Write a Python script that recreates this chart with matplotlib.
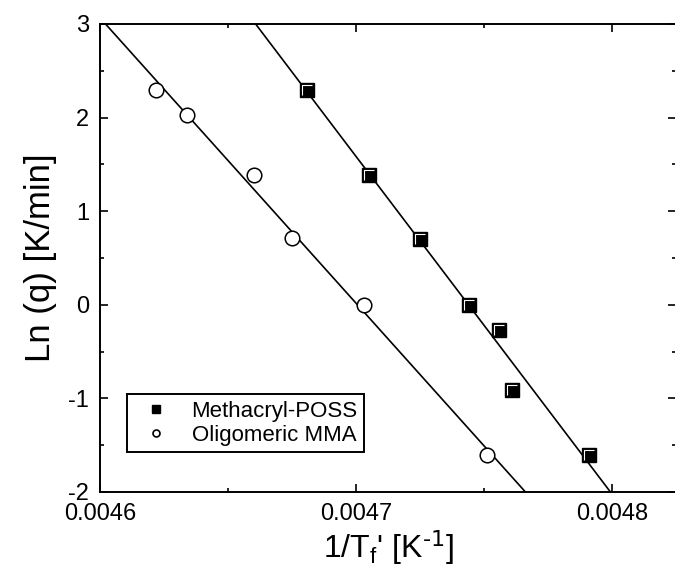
import matplotlib
matplotlib.use("Agg")
import matplotlib.pyplot as plt
from matplotlib.lines import Line2D
from matplotlib.path import Path
import numpy as np

plt.rcParams['font.family'] = ['Liberation Sans', 'DejaVu Sans']
plt.rcParams['mathtext.default'] = 'regular'
plt.rcParams['axes.unicode_minus'] = False

# Methacryl-POSS
poss_x = [0.004681, 0.004705, 0.004725, 0.004744, 0.004756, 0.004761, 0.004791]
poss_y = [2.30, 1.39, 0.70, 0.0, -0.27, -0.91, -1.60]
# Oligomeric MMA
mma_x = [0.004622, 0.004634, 0.004660, 0.004675, 0.004703, 0.004751]
mma_y = [2.30, 2.03, 1.39, 0.71, 0.0, -1.60]

labels = ["Methacryl-POSS", "Oligomeric MMA"]

fig = plt.figure(figsize=(6.75, 5.85), dpi=100)
ax = fig.add_axes([100/675, 93/585, 576/675, 468/585])

# linear fits
xx = np.array([0.0045, 0.0049])
for xs, ys in [(poss_x, poss_y), (mma_x, mma_y)]:
    k, b = np.polyfit(xs, ys, 1)
    ax.plot(xx, k*xx + b, color='black', lw=1.2, zorder=2)

# square with white highlight (top-left corner)
hl = Path([(-0.55, -0.55), (-0.55, 0.55), (0.55, 0.55)],
          [Path.MOVETO, Path.LINETO, Path.LINETO])

ax.plot(poss_x, poss_y, 's', ms=9.5, mfc='black', mec='black', mew=1.0, zorder=3)
ax.plot(poss_x, poss_y, ls='none', marker=hl, ms=7, mfc='none', mec='white', mew=0.8, zorder=4)
ax.plot(mma_x, mma_y, 'o', ms=10.5, mfc='white', mec='black', mew=1.1, zorder=3)

ax.set_xlim(0.0046, 0.004825)
ax.set_ylim(-2, 3)
ax.set_xticks([0.0046, 0.0047, 0.0048])
ax.set_xticklabels(["0.0046", "0.0047", "0.0048"])
ax.set_xticks(np.arange(0.00465, 0.00482, 0.0001), minor=True)
ax.set_yticks([-2, -1, 0, 1, 2, 3])
ax.set_yticks([-1.5, -0.5, 0.5, 1.5, 2.5], minor=True)

ax.tick_params(which='both', direction='in', top=True, right=True, width=1.2)
ax.tick_params(which='major', length=6, labelsize=17, pad=8)
ax.tick_params(which='minor', length=3)
for s in ax.spines.values():
    s.set_linewidth(1.4)

ax.set_xlabel(r"1/T$_f$' [K$^{\text{-1}}$]", fontsize=23, labelpad=2)
ax.set_ylabel("Ln (q) [K/min]", fontsize=25, labelpad=8)

handles = [
    Line2D([], [], ls='none', marker='s', ms=6, mfc='black', mec='black'),
    Line2D([], [], ls='none', marker='o', ms=5, mfc='white', mec='black', mew=1.2),
]
leg = ax.legend(handles, labels, loc='upper left', bbox_to_anchor=(0.047, 0.209),
                borderaxespad=0, fontsize=16, frameon=True, fancybox=False,
                edgecolor='black', framealpha=1, labelspacing=0.12,
                handlelength=2.0, handletextpad=0.6, borderpad=0.3)
leg.get_frame().set_linewidth(1.4)

fig.savefig("out.png", dpi=100)
